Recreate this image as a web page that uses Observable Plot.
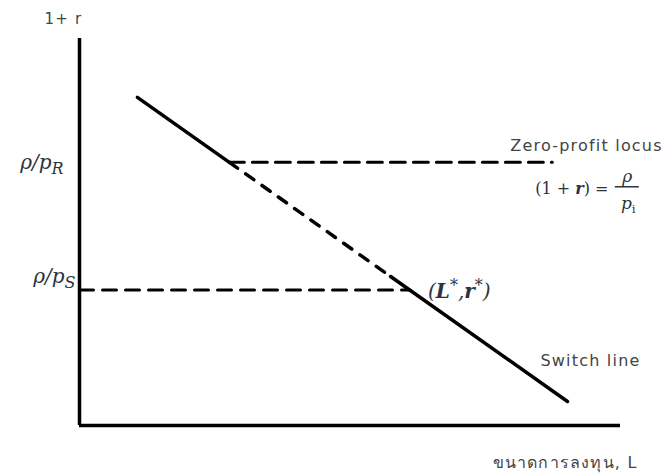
<!DOCTYPE html>
<html>
<head>
<meta charset="utf-8">
<script src="https://cdn.jsdelivr.net/npm/d3@7"></script>
<script src="https://cdn.jsdelivr.net/npm/@observablehq/plot@0.6"></script>
<style>
  html, body { margin: 0; padding: 0; background: #fff; }
  #chart svg { display: block; }
</style>
</head>
<body>
<div id="chart"></div>
<script>
// ---- data (abstract units: L on x, 1+r on y) ----
const xMax = 10;
const yMax = 10;
const switchL = [1.07, 2.77, 5.75, 9.02];
const switchR = [8.48, 6.80, 3.85, 0.62];
const rhoPR = 6.8;
const rhoPS = 3.5;
const zeroProfitL = [2.77, 8.74];
const lowerL = [0, 6.11];
const starL = 6.11;

const yAxisTitle = "1+ r";
const xAxisTitle = "ขนาดการลงทุน, L";
const zeroProfitLabel = "Zero-profit locus";
const switchLabel = "Switch line";
const labelPR = "ρ/pR";
const labelPS = "ρ/pS";
const labelStar = "(L*,r*)";
const labelEq = "(1 + r) =";
const labelNum = "ρ";
const labelDen = "pi";

const switchPts = switchL.map((x, i) => ({x, y: switchR[i]}));
const zeroPts = zeroProfitL.map(x => ({x, y: rhoPR}));
const lowerPts = lowerL.map(x => ({x, y: rhoPS}));

const sans = "Tahoma, 'DejaVu Sans', 'Noto Sans', sans-serif";
const serif = "'DejaVu Serif', 'Liberation Serif', serif";
const grey = "#444";
const ink = "#2a3440";

const plot = Plot.plot({
  width: 667,
  height: 475,
  marginLeft: 79,
  marginRight: 47,
  marginTop: 38,
  marginBottom: 50,
  x: {domain: [0, xMax], axis: null},
  y: {domain: [0, yMax], axis: null},
  style: {background: "#fff"},
  marks: [
    Plot.ruleX([0], {y1: 0, y2: yMax, stroke: "#000", strokeWidth: 3.5}),
    Plot.ruleY([0], {x1: 0, x2: xMax, stroke: "#000", strokeWidth: 3.5}),
    Plot.line(zeroPts, {x: "x", y: "y", stroke: "#000", strokeWidth: 3, strokeDasharray: "15,8"}),
    Plot.line(lowerPts, {x: "x", y: "y", stroke: "#000", strokeWidth: 3, strokeDasharray: "14,9"}),
    Plot.line(switchPts.slice(0, 2), {x: "x", y: "y", stroke: "#000", strokeWidth: 3.5, strokeLinecap: "round"}),
    Plot.line(switchPts.slice(1, 3), {x: "x", y: "y", stroke: "#000", strokeWidth: 3.5, strokeDasharray: "10,10"}),
    Plot.line(switchPts.slice(2, 4), {x: "x", y: "y", stroke: "#000", strokeWidth: 3.5, strokeLinecap: "round"}),
    // axis titles
    Plot.text([yMax], {x: 0, y: d => d, text: () => yAxisTitle, dx: -16, dy: -19, fontSize: 15, fontFamily: sans, fill: grey}),
    Plot.text([xMax], {x: d => d, y: 0, text: () => xAxisTitle, textAnchor: "end", dx: 17, dy: 37, fontSize: 16, fontFamily: sans, fill: grey}),
    // tick labels
    Plot.text([rhoPR], {x: 0, y: d => d, text: () => labelPR, textAnchor: "end", dx: -16, dy: 0, fontSize: 20, fontFamily: serif, fontStyle: "italic", fill: ink}),
    Plot.text([rhoPS], {x: 0, y: d => d, text: () => labelPS, textAnchor: "end", dx: -4, dy: -13, fontSize: 20, fontFamily: serif, fontStyle: "italic", fill: ink}),
    // annotations
    Plot.text([rhoPR], {x: zeroProfitL[1], y: d => d, text: () => zeroProfitLabel, textAnchor: "start", dx: -42, dy: -16, fontSize: 16, fontFamily: sans, fill: grey}),
    Plot.text([rhoPR], {x: zeroProfitL[1], y: d => d, text: () => labelEq, textAnchor: "start", dx: -17, dy: 27, fontSize: 16, fontFamily: serif, fill: ink}),
    Plot.text([rhoPR], {x: zeroProfitL[1], y: d => d, text: () => labelNum, textAnchor: "middle", dx: 75, dy: 14, fontSize: 17, fontFamily: serif, fontStyle: "italic", fill: ink}),
    Plot.text([rhoPR], {x: zeroProfitL[1], y: d => d, text: () => labelDen, textAnchor: "middle", dx: 76, dy: 41, fontSize: 17, fontFamily: serif, fontStyle: "italic", fill: ink}),
    Plot.text([rhoPS], {x: starL, y: d => d, text: () => labelStar, textAnchor: "start", dx: 18, dy: 2, fontSize: 20, fontFamily: serif, fontStyle: "italic", fill: ink}),
    Plot.text([switchR[3]], {x: switchL[3], y: d => d, text: () => switchLabel, textAnchor: "start", dx: -27, dy: -41, fontSize: 16, fontFamily: sans, fill: grey})
  ]
});

// rich text formatting (subscripts / superscripts / italic variables)
const rich = {
  [labelPR]: 'ρ/p<tspan dy="5" font-size="0.8em">R</tspan>',
  [labelPS]: 'ρ/p<tspan dy="5" font-size="0.8em">S</tspan>',
  [labelStar]: '(<tspan font-weight="bold">L</tspan><tspan dy="-7" font-size="0.8em" font-style="normal">*</tspan><tspan dy="7">,</tspan><tspan font-weight="bold">r</tspan><tspan dy="-7" font-size="0.8em" font-style="normal">*</tspan><tspan dy="7">)</tspan>',
  [labelEq]: '(1 + <tspan font-style="italic" font-weight="bold">r</tspan>) =',
  [labelDen]: 'p<tspan dy="4" font-size="0.7em" font-style="normal">i</tspan>'
};
const spaced = new Set([yAxisTitle, xAxisTitle, zeroProfitLabel, switchLabel]);
d3.select(plot).selectAll("text").each(function () {
  const t = this.textContent;
  if (rich[t]) this.innerHTML = rich[t];
  if (spaced.has(t)) this.setAttribute("letter-spacing", "1.2");
});

document.getElementById("chart").appendChild(plot);

// fraction bar under the numerator of ρ/p_i (placed in the text's own frame)
d3.select(plot).selectAll("text").filter(function () { return this.textContent === labelNum; }).each(function () {
  const b = this.getBBox();
  const cx = b.x + b.width / 2;
  const yb = b.y + b.height + 1;
  d3.select(this.parentNode).append("line")
    .attr("transform", this.getAttribute("transform"))
    .attr("x1", cx - 12).attr("x2", cx + 12)
    .attr("y1", yb).attr("y2", yb)
    .attr("stroke", ink).attr("stroke-width", 1.5);
});
</script>
</body>
</html>
